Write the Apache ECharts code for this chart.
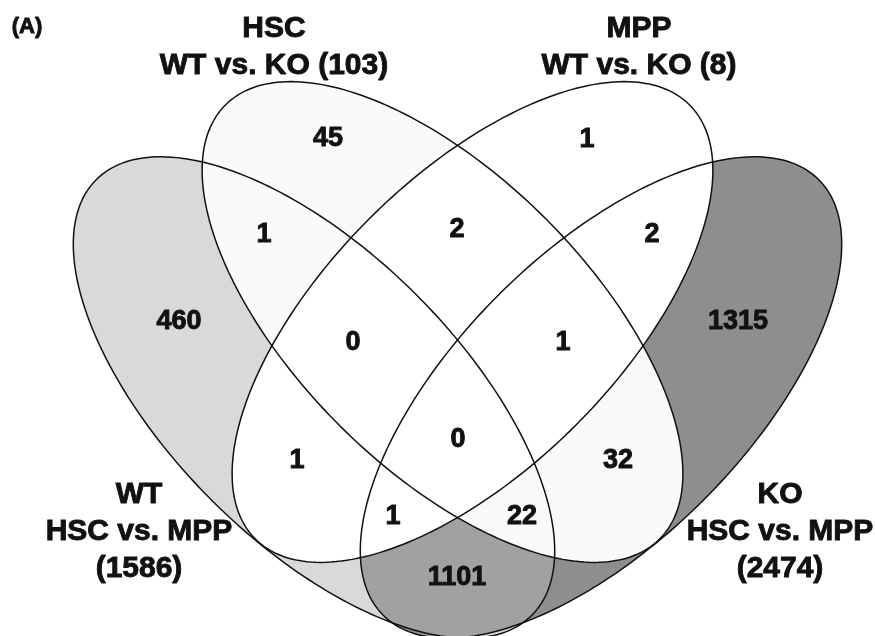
<!DOCTYPE html>
<html><head><meta charset="utf-8">
<script src="https://cdn.jsdelivr.net/npm/echarts@6/dist/echarts.min.js"></script>
<style>html,body{margin:0;padding:0;background:#fff}#c{width:875px;height:636px}</style>
</head><body><div id="c"></div>
<script>
// ---- data ----
const setNames = ['WT', 'HSC', 'MPP', 'KO'];
const setSubtitles = ['HSC vs. MPP', 'WT vs. KO', 'WT vs. KO', 'HSC vs. MPP'];
const setTotals = [1586, 103, 8, 2474];
const regionSets = ['WT', 'HSC', 'MPP', 'KO', 'WT&HSC', 'HSC&MPP', 'MPP&KO',
  'WT&HSC&MPP', 'HSC&MPP&KO', 'WT&HSC&MPP&KO', 'WT&MPP', 'HSC&KO',
  'WT&MPP&KO', 'WT&HSC&KO', 'WT&KO'];
const regionCounts = [460, 45, 1, 1315, 1, 2, 2, 0, 1, 0, 1, 32, 1, 22, 1101];
const panelLabel = '(A)';

// ---- layout (in the hidden 875 x 636 data space, y downward) ----
const ellipseLayout = [ // cx, cy, semi-major, semi-minor, angle (deg)
  [314, 397.5, 308, 145, 45],    // WT
  [442.5, 322, 307, 146, 45],    // HSC
  [472.5, 322, 307, 146, -45],   // MPP
  [601, 397.5, 308, 145, -45]    // KO
];
const ellipseFill = ['rgba(179,179,179,0.5)', '#fafafa', '#ffffff', '#8e8e8e'];
const fillOrder = [3, 0, 1, 2];
const regionPos = [[179, 322], [328, 139], [587, 140], [738, 322], [264, 235], [457, 230],
  [652, 235], [353, 343], [563, 343], [458, 440], [297, 461], [618, 461],
  [393, 517], [522, 517], [457, 578]];
const titlePos = [[139, 532], [274, 47], [639, 47], [780, 532]];
const panelPos = [27, 27];

const FONT = '"Liberation Sans", Arial, Helvetica, sans-serif';
const INK = '#111';

function ellipsePoints(e) {
  const [cx, cy, a, b, deg] = e;
  const t = deg * Math.PI / 180, pts = [];
  for (let i = 0; i < 240; i++) {
    const g = 2 * Math.PI * i / 240;
    const x = a * Math.cos(g), y = b * Math.sin(g);
    pts.push([cx + x * Math.cos(t) - y * Math.sin(t), cy + x * Math.sin(t) + y * Math.cos(t)]);
  }
  return pts;
}

const titleTexts = setNames.map((n, i) =>
  (i === 0 || i === 3) ? n + '\n' + setSubtitles[i] + '\n(' + setTotals[i] + ')'
                       : n + '\n' + setSubtitles[i] + ' (' + setTotals[i] + ')');

function textItem(api, text, size, lh) {
  const p = api.coord([api.value(0), api.value(1)]);
  const style = {text: text, align: 'center', verticalAlign: 'middle',
    font: 'bold ' + size + 'px ' + FONT, fill: INK, stroke: INK, lineWidth: 0.9};
  if (lh) style.lineHeight = lh;
  return {type: 'text', x: p[0], y: p[1], style: style};
}

const chart = echarts.init(document.getElementById('c'), null, {renderer: 'canvas'});
chart.setOption({
  animation: false,
  backgroundColor: '#fff',
  grid: {left: 0, right: 0, top: 0, bottom: 0},
  xAxis: {type: 'value', min: 0, max: 875, show: false},
  yAxis: {type: 'value', min: 0, max: 636, inverse: true, show: false},
  series: [
    {
      type: 'custom', name: 'fills', silent: true,
      data: fillOrder.map(i => [ellipseLayout[i][0], ellipseLayout[i][1], i]),
      renderItem: (params, api) => {
        const idx = api.value(2);
        return {type: 'polygon', shape: {points: ellipsePoints(ellipseLayout[idx]).map(p => api.coord(p))},
          style: {fill: ellipseFill[idx], stroke: null}};
      }
    },
    {
      type: 'custom', name: 'outlines', silent: true,
      data: [0, 1, 2, 3].map(i => [ellipseLayout[i][0], ellipseLayout[i][1], i]),
      renderItem: (params, api) => {
        const idx = api.value(2);
        return {type: 'polygon', shape: {points: ellipsePoints(ellipseLayout[idx]).map(p => api.coord(p))},
          style: {fill: null, stroke: INK, lineWidth: 1.5}};
      }
    },
    {
      type: 'custom', name: 'counts', silent: true,
      data: regionCounts.map((c, i) => [regionPos[i][0], regionPos[i][1], c]),
      renderItem: (params, api) => textItem(api, String(api.value(2)), 27)
    },
    {
      type: 'custom', name: 'titles', silent: true,
      data: titleTexts.map((t, i) => [titlePos[i][0], titlePos[i][1], i]),
      renderItem: (params, api) => textItem(api, titleTexts[api.value(2)], 30, 37)
    },
    {
      type: 'custom', name: 'panel', silent: true,
      data: [[panelPos[0], panelPos[1]]],
      renderItem: (params, api) => textItem(api, panelLabel, 22)
    }
  ]
});
</script></body></html>
